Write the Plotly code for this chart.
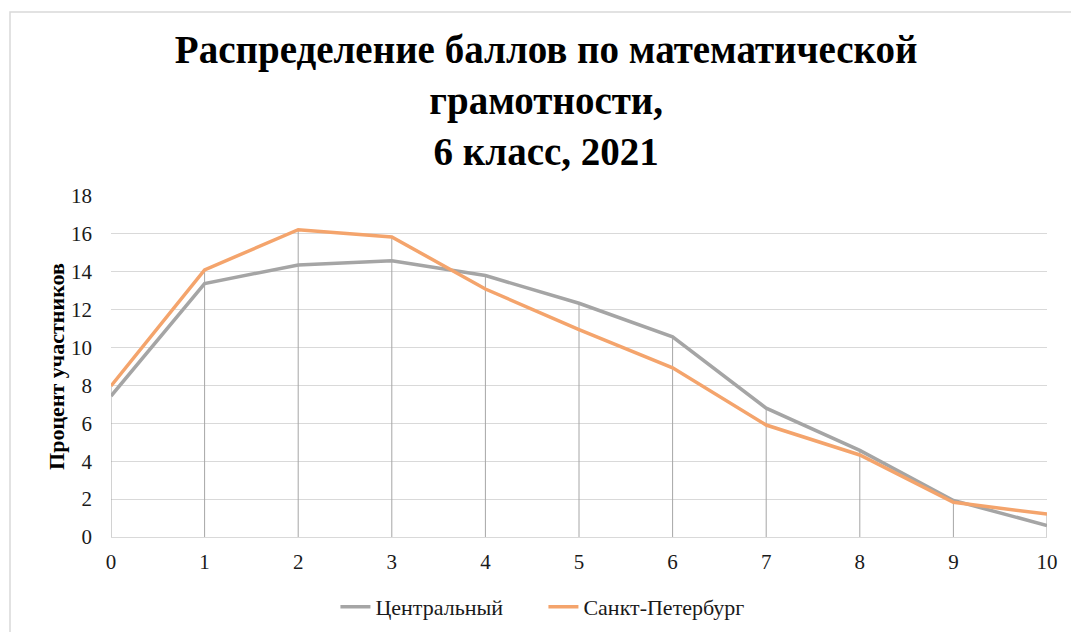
import plotly.graph_objects as go

scores = [0, 1, 2, 3, 4, 5, 6, 7, 8, 9, 10]
central = [7.44, 13.38, 14.36, 14.58, 13.8, 12.34, 10.57, 6.8, 4.57, 1.93, 0.61]
spb = [7.97, 14.1, 16.22, 15.84, 13.09, 10.95, 8.93, 5.91, 4.33, 1.83, 1.21]
y_ticks = [0, 2, 4, 6, 8, 10, 12, 14, 16, 18]

title_text = "Распределение баллов по математической<br>грамотности,<br>6 класс, 2021"
names = ["Центральный", "Санкт-Петербург"]
colors = ["#a5a5a5", "#f4a46c"]

# drop lines from axis to the highest point at each score
drop_x, drop_y = [], []
for x, a, b in zip(scores, central, spb):
    drop_x += [x, x, None]
    drop_y += [0, max(a, b), None]

fig = go.Figure()
fig.add_trace(go.Scatter(x=drop_x, y=drop_y, mode="lines",
                         line=dict(color="#a6a6a6", width=1),
                         showlegend=False, hoverinfo="skip"))
fig.add_trace(go.Scatter(x=scores, y=central, mode="lines", name=names[0],
                         line=dict(color=colors[0], width=3.5)))
fig.add_trace(go.Scatter(x=scores, y=spb, mode="lines", name=names[1],
                         line=dict(color=colors[1], width=3.5)))

font_family = "Liberation Serif, Times New Roman, serif"

fig.update_layout(
    width=1071, height=632,
    paper_bgcolor="white", plot_bgcolor="white",
    margin=dict(l=111, r=24, t=196, b=95, autoexpand=False),
    title=dict(text="<b>" + title_text + "</b>", x=0.51, xanchor="center",
               y=0.90, yanchor="top",
               font=dict(family=font_family, size=39, color="black")),
    font=dict(family=font_family, size=22, color="#1a1a1a"),
    legend=dict(orientation="h", x=0.462, xanchor="center", y=-0.205, yanchor="middle",
                font=dict(family=font_family, size=22, color="#1a1a1a"),
                entrywidth=163, entrywidthmode="pixels", tracegroupgap=0),
    shapes=[dict(type="rect", xref="paper", yref="paper",
                 x0=(10 - 111) / 936, x1=(1090 - 111) / 936,
                 y0=(537 - 660) / 341, y1=1 + (196 - 12) / 341,
                 line=dict(color="#d9d9d9", width=1.5), fillcolor="rgba(0,0,0,0)",
                 layer="below")],
)
fig.update_xaxes(range=[0, 10], tickvals=scores, ticktext=[str(s) for s in scores],
                 showgrid=False, zeroline=False, showline=True, linecolor="#d9d9d9",
                 linewidth=1, ticks="", automargin=False, ticklabelstandoff=6,
                 tickfont=dict(size=21, family=font_family, color="#1a1a1a"))
fig.update_yaxes(range=[0, 18], tickvals=y_ticks, showgrid=True, gridcolor="#d9d9d9",
                 gridwidth=1, zeroline=False, showline=False, ticks="", automargin=False,
                 ticklabelstandoff=18,
                 tickfont=dict(size=21, family=font_family, color="#1a1a1a"),
                 title=dict(text="<b>Процент участников</b>", standoff=0,
                            font=dict(size=22, family=font_family, color="black")))

fig.write_html("out.html", config={"displayModeBar": False},
               post_script="document.body.style.margin='0px';")
